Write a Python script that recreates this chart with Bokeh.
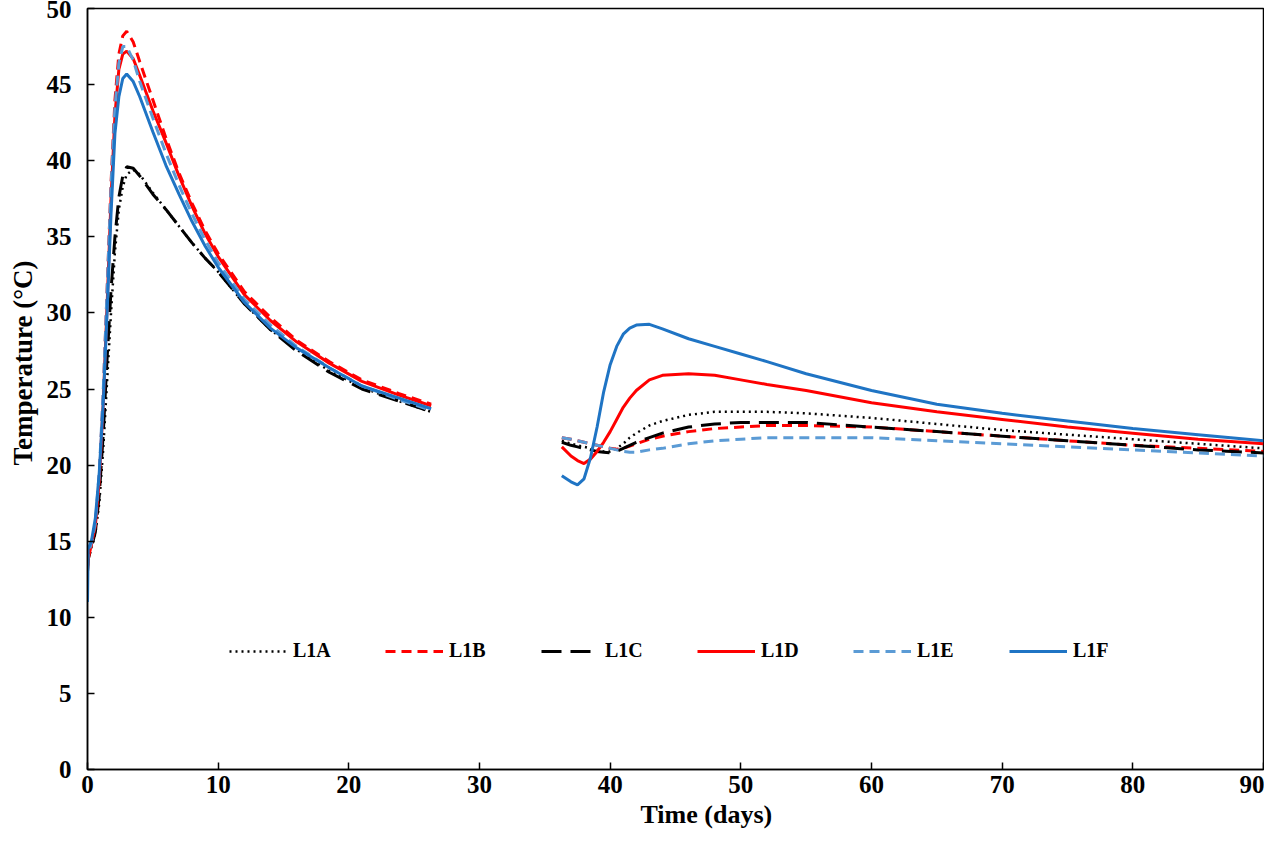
import math
from bokeh.plotting import figure
from bokeh.models import Range1d, Legend, LegendItem, SingleIntervalTicker, Title
from bokeh.embed import file_html
from bokeh.resources import INLINE

# ---- data ----
days_early = [0.0, 0.05, 0.3, 0.6, 0.9, 1.2, 1.5, 1.8, 2.1, 2.4, 2.7, 3.0, 3.5, 4.0,
              5.0, 6.0, 7.0, 8.0, 9.0, 10.0, 12.0, 14.0, 16.0, 18.5, 21.0, 23.85, 26.3]
days_late = [36.3, 37.0, 37.5, 38.0, 38.5, 39.0, 39.5, 40.0, 40.5, 41.0, 41.5, 42.0, 43.0, 44.0,
             46.0, 48.0, 50.0, 52.0, 55.0, 60.0, 65.0, 70.0, 75.0, 80.0, 85.0, 90.0]

L1A_early = [13.0, 13.8, 14.6, 15.5, 17.5, 21.0, 25.5, 30.0, 34.0, 36.8, 38.3, 39.1, 39.4, 39.1,
             37.9, 36.8, 35.7, 34.6, 33.6, 32.7, 30.6, 28.9, 27.6, 26.2, 25.1, 24.2, 23.5]
L1B_early = [13.5, 14.0, 14.8, 16.0, 19.2, 24.5, 31.5, 38.5, 44.0, 47.0, 48.2, 48.5, 47.8, 46.5,
             44.0, 41.5, 39.2, 37.2, 35.4, 33.9, 31.4, 29.7, 28.2, 26.8, 25.6, 24.7, 24.0]
L1C_early = [13.0, 13.8, 14.6, 15.6, 18.0, 22.0, 27.0, 31.5, 35.0, 37.6, 39.0, 39.6, 39.5, 39.0,
             37.8, 36.8, 35.7, 34.6, 33.6, 32.7, 30.6, 28.9, 27.5, 26.1, 25.0, 24.2, 23.5]
L1D_early = [13.0, 13.8, 14.8, 16.0, 19.0, 24.0, 30.5, 37.5, 43.0, 46.0, 47.0, 47.2, 46.7, 45.6,
             43.3, 41.2, 39.0, 37.0, 35.2, 33.7, 31.2, 29.5, 28.1, 26.7, 25.5, 24.6, 23.9]
L1E_early = [13.5, 14.2, 14.9, 16.2, 19.5, 24.8, 31.5, 38.3, 43.5, 46.4, 47.5, 47.5, 46.6, 45.2,
             42.8, 40.5, 38.4, 36.5, 34.8, 33.3, 30.9, 29.2, 27.8, 26.4, 25.2, 24.3, 23.6]
L1F_early = [11.0, 14.5, 15.0, 16.5, 19.5, 24.0, 30.0, 36.5, 41.8, 44.2, 45.4, 45.7, 45.2, 44.2,
             41.9, 39.7, 37.8, 36.0, 34.4, 33.0, 30.7, 29.0, 27.7, 26.4, 25.2, 24.4, 23.7]

L1A_late = [21.6, 21.4, 21.3, 21.2, 21.1, 21.0, 20.9, 20.9, 21.1, 21.4, 21.8, 22.1, 22.6, 22.9,
            23.3, 23.5, 23.5, 23.5, 23.4, 23.1, 22.7, 22.3, 22.0, 21.7, 21.4, 21.1]
L1B_late = [21.8, 21.7, 21.6, 21.5, 21.4, 21.3, 21.2, 21.1, 21.05, 21.1, 21.25, 21.4, 21.7, 21.9,
            22.2, 22.4, 22.5, 22.6, 22.6, 22.5, 22.2, 21.9, 21.6, 21.3, 21.1, 20.9]
L1C_late = [21.5, 21.3, 21.2, 21.1, 21.0, 20.9, 20.85, 20.8, 20.9, 21.1, 21.3, 21.5, 21.8, 22.1,
            22.5, 22.7, 22.8, 22.8, 22.8, 22.5, 22.2, 21.9, 21.6, 21.3, 21.0, 20.8]
L1D_late = [21.2, 20.6, 20.3, 20.1, 20.4, 20.9, 21.5, 22.2, 23.0, 23.8, 24.4, 24.9, 25.6, 25.9,
            26.0, 25.9, 25.6, 25.3, 24.9, 24.1, 23.5, 23.0, 22.5, 22.1, 21.7, 21.4]
L1E_late = [21.8, 21.7, 21.6, 21.5, 21.4, 21.3, 21.2, 21.1, 21.0, 20.9, 20.85, 20.85, 21.0, 21.1,
            21.4, 21.6, 21.7, 21.8, 21.8, 21.8, 21.6, 21.4, 21.2, 21.0, 20.8, 20.6]
L1F_late = [19.3, 18.9, 18.7, 19.1, 20.5, 22.5, 24.8, 26.6, 27.8, 28.6, 29.0, 29.2, 29.25, 28.95,
            28.3, 27.8, 27.3, 26.8, 26.0, 24.9, 24.0, 23.4, 22.9, 22.4, 22.0, 21.6]

series_names = ["L1A", "L1B", "L1C", "L1D", "L1E", "L1F"]
early = [L1A_early, L1B_early, L1C_early, L1D_early, L1E_early, L1F_early]
late = [L1A_late, L1B_late, L1C_late, L1D_late, L1E_late, L1F_late]

x_ticks_step = 10
y_ticks_step = 5
x_title = "Time (days)"
y_title = "Temperature (°C)"

styles = {
    "L1A": dict(color="#000000", dash="2 4", width=2.5),
    "L1B": dict(color="#FF0000", dash="10 6", width=3),
    "L1C": dict(color="#000000", dash="20 9", width=3),
    "L1D": dict(color="#FF0000", dash="solid", width=3),
    "L1E": dict(color="#5B9BD5", dash="10 6", width=3),
    "L1F": dict(color="#1F74C4", dash="solid", width=3),
}

FONT = "Liberation Serif"

p = figure(width=1264, height=834, output_backend="svg", toolbar_location=None,
           x_range=Range1d(0, 90), y_range=Range1d(0, 50),
           min_border_left=87, min_border_right=1, min_border_top=8, min_border_bottom=65)
p.xgrid.visible = False
p.ygrid.visible = False
p.outline_line_color = "black"
p.outline_line_width = 1.5

for ax in (p.xaxis[0], p.yaxis[0]):
    ax.major_tick_in = 7
    ax.major_tick_out = 0
    ax.minor_tick_line_color = None
    ax.axis_line_width = 1.5
    ax.major_tick_line_width = 1.5
    ax.major_label_text_font = FONT
    ax.major_label_text_font_style = "bold"
    ax.major_label_text_font_size = "25px"
    ax.major_label_text_color = "black"

p.xaxis.ticker = SingleIntervalTicker(interval=x_ticks_step)
p.yaxis.ticker = SingleIntervalTicker(interval=y_ticks_step)
p.xaxis.major_label_standoff = 2
p.yaxis.major_label_standoff = 12

xt = Title(text=x_title, align="left", offset=553, standoff=4,
           text_font=FONT, text_font_style="bold", text_font_size="26px", text_color="black")
p.add_layout(xt, "below")
yt = Title(text=y_title, align="left", offset=304, standoff=8, vertical_align="top",
           text_font=FONT, text_font_style="bold", text_font_size="27px", text_color="black")
p.add_layout(yt, "left")

items = []
for name, e, l in zip(series_names, early, late):
    st = styles[name]
    xs = days_early + [float("nan")] + days_late
    ys = e + [float("nan")] + l
    r = p.line(xs, ys, line_color=st["color"], line_width=st["width"], line_dash=st["dash"])
    items.append(LegendItem(label=name, renderers=[r]))

legend = Legend(items=items, orientation="horizontal", location=(142, 107),
                background_fill_alpha=0, border_line_color=None,
                glyph_width=58, glyph_height=20, label_standoff=6, label_width=50,
                spacing=42, padding=5, margin=0,
                label_text_font=FONT, label_text_font_style="bold",
                label_text_font_size="20px", label_text_color="black")
p.add_layout(legend, "center")

open("out.html", "w").write(file_html(p, INLINE))
